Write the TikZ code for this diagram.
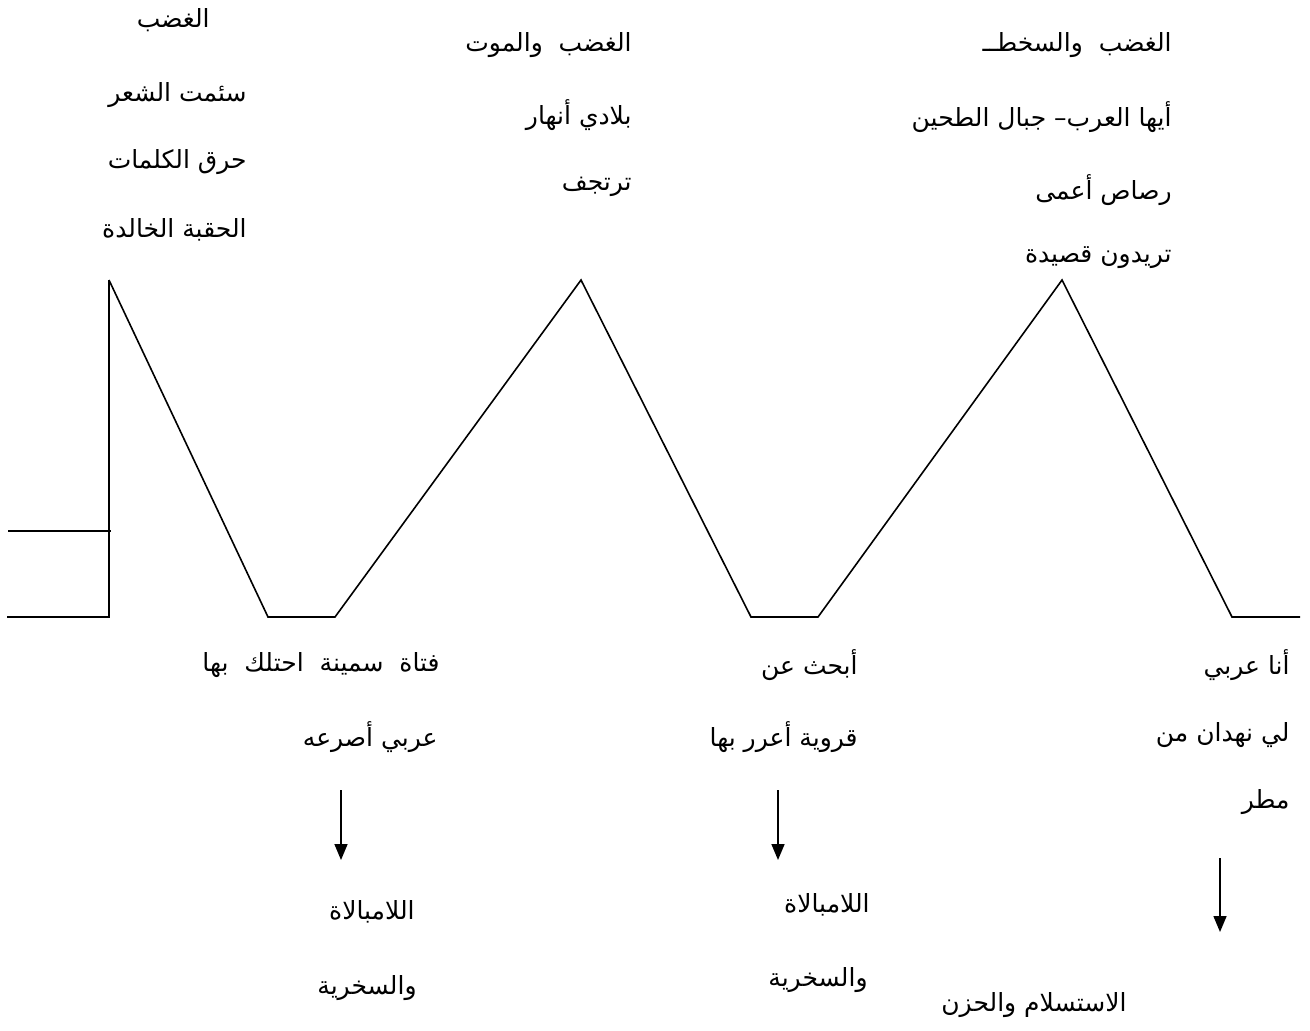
\documentclass[tikz,border=0pt]{standalone}
\usepackage{fontspec}
\usetikzlibrary{arrows.meta}
\newfontfamily\arabicfont[Script=Arabic]{DejaVu Sans}
\TeXXeTstate=1
\newcommand\arx[1]{\beginR #1\endR}
\begin{document}
\begin{tikzpicture}[x=0.5pt,y=-0.5pt,
  ln/.style={line width=0.8pt, line join=miter},
  arrowline/.style={line width=0.8pt,-{Triangle[width=6.5pt,length=8pt]}},
  txt/.style={anchor=east, inner sep=0pt, font=\arabicfont\fontsize{12.5}{14}\selectfont}]
\useasboundingbox (0,0) rectangle (1310,1030);
% zigzag coordinates
\coordinate (b0) at (7,617);
\coordinate (b1) at (109,617);
\coordinate (p1) at (109,280);
\coordinate (h0) at (8,531);
\coordinate (h1) at (111,531);
\coordinate (v1) at (268,617);
\coordinate (v2) at (335,617);
\coordinate (p2) at (581,280);
\coordinate (v3) at (751,617);
\coordinate (v4) at (818,617);
\coordinate (p3) at (1062,280);
\coordinate (v5) at (1232,617);
\coordinate (v6) at (1300,617);
\draw[ln] (b0) -- (b1) -- (p1);
\draw[ln] (h0) -- (h1);
\draw[ln] (p1) -- (v1) -- (v2) -- (p2) -- (v3) -- (v4) -- (p3) -- (v5) -- (v6);
% top left
\node[txt] (tl1) at (210,20) {\arx{الغضب}};
\node[txt] (tl2) at (247,95) {\arx{سئمت الشعر}};
\node[txt] (tl3) at (247,162) {\arx{حرق الكلمات}};
\node[txt] (tl4) at (247,230) {\arx{الحقبة الخالدة}};
% top middle
\node[txt] (tm1) at (632,45) {\arx{الغضب\ \ والموت}};
\node[txt] (tm2) at (632,115) {\arx{بلادي أنهار}};
\node[txt] (tm3) at (632,187) {\arx{ترتجف}};
% top right
\node[txt] (tr1) at (1172,45) {\arx{الغضب\ \ والسخطــ}};
\node[txt] (tr2) at (1172,117) {\arx{أيها العرب– جبال الطحين}};
\node[txt] (tr3) at (1172,190) {\arx{رصاص أعمى}};
\node[txt] (tr4) at (1172,258) {\arx{تريدون قصيدة}};
% bottom left
\node[txt] (bl1) at (440,665) {\arx{فتاة\ \ سمينة\ \ احتلك\ \ بها}};
\node[txt] (bl2) at (438,737) {\arx{عربي أصرعه}};
\node[txt] (bl3) at (415,912) {\arx{اللامبالاة}};
\node[txt] (bl4) at (417,988) {\arx{والسخرية}};
\coordinate (bla) at (341,790);
\coordinate (blb) at (341,860);
\draw[arrowline] (bla) -- (blb);
% bottom middle
\node[txt] (bm1) at (858,665) {\arx{أبحث عن}};
\node[txt] (bm2) at (858,737) {\arx{قروية أعرر بها}};
\node[txt] (bm3) at (870,905) {\arx{اللامبالاة}};
\node[txt] (bm4) at (868,980) {\arx{والسخرية}};
\coordinate (bma) at (778,790);
\coordinate (bmb) at (778,860);
\draw[arrowline] (bma) -- (bmb);
% bottom right
\node[txt] (br1) at (1290,665) {\arx{أنا عربي}};
\node[txt] (br2) at (1290,735) {\arx{لي نهدان من}};
\node[txt] (br3) at (1290,802) {\arx{مطر}};
\node[txt] (br4) at (1127,1005) {\arx{الاستسلام والحزن}};
\coordinate (bra) at (1220,858);
\coordinate (brb) at (1220,932);
\draw[arrowline] (bra) -- (brb);
\end{tikzpicture}
\end{document}
